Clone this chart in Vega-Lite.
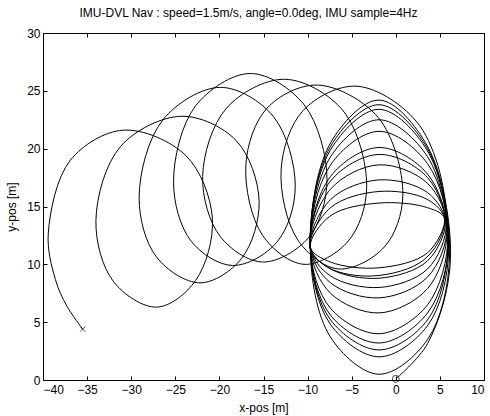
{
"$schema": "https://vega.github.io/schema/vega-lite/v6.json",
"width": 441, "height": 347,
"autosize": {"type": "none"},
"padding": {"left": 43, "top": 33, "right": 6, "bottom": 36},
"background": "white",
"title": {"text": "IMU-DVL Nav : speed=1.5m/s, angle=0.0deg, IMU sample=4Hz", "font": "Liberation Sans", "fontSize": 12, "fontWeight": "normal", "color": "black", "offset": 7, "dx": -15},
"config": {
  "view": {"stroke": "black", "strokeWidth": 1},
  "axis": {"domain": false, "grid": false, "tickColor": "black", "tickSize": -4, "labelFont": "Liberation Sans", "labelFontSize": 12, "labelColor": "black", "titleFont": "Liberation Sans", "titleFontSize": 12, "titleFontWeight": "normal", "titleColor": "black"}
},
"datasets": {
"path": [
{"i":1,"x":0,"y":0.1},{"i":2,"x":3.6,"y":3.15},{"i":3,"x":6.2,"y":10.5},{"i":4,"x":3.6,"y":20.2},{"i":5,"x":-1.9,"y":24.2},{"i":6,"x":-7.4,"y":20.5},{"i":7,"x":-9.7,"y":11.5},{"i":8,"x":-7.4,"y":3.7},
{"i":9,"x":-1.9,"y":0.5},{"i":10,"x":3.6,"y":3.5},{"i":11,"x":6.1,"y":10.8},{"i":12,"x":3.6,"y":20.0},{"i":13,"x":-1.9,"y":23.8},{"i":14,"x":-7.4,"y":20.2},{"i":15,"x":-9.7,"y":11.5},{"i":16,"x":-7.4,"y":4.8},
{"i":17,"x":-1.9,"y":2.0},{"i":18,"x":3.6,"y":4.7},{"i":19,"x":6.0,"y":11.2},{"i":20,"x":3.6,"y":19.8},{"i":21,"x":-1.9,"y":23.4},{"i":22,"x":-7.4,"y":19.9},{"i":23,"x":-9.7,"y":11.5},{"i":24,"x":-7.4,"y":5.2},
{"i":25,"x":-1.9,"y":2.6},{"i":26,"x":3.6,"y":5.2},{"i":27,"x":5.9,"y":11.6},{"i":28,"x":3.6,"y":19.3},{"i":29,"x":-1.9,"y":22.5},{"i":30,"x":-7.4,"y":19.3},{"i":31,"x":-9.7,"y":11.5},{"i":32,"x":-7.4,"y":5.6},
{"i":33,"x":-1.9,"y":3.2},{"i":34,"x":3.6,"y":5.8},{"i":35,"x":6.0,"y":12.0},{"i":36,"x":3.6,"y":18.7},{"i":37,"x":-1.9,"y":21.5},{"i":38,"x":-7.4,"y":18.6},{"i":39,"x":-9.7,"y":11.5},{"i":40,"x":-7.4,"y":6.2},
{"i":41,"x":-1.9,"y":4.0},{"i":42,"x":3.6,"y":6.5},{"i":43,"x":5.9,"y":12.4},{"i":44,"x":3.6,"y":17.8},{"i":45,"x":-1.9,"y":20.1},{"i":46,"x":-7.4,"y":17.6},{"i":47,"x":-9.7,"y":11.5},{"i":48,"x":-7.4,"y":7.5},
{"i":49,"x":-1.9,"y":5.8},{"i":50,"x":3.6,"y":7.9},{"i":51,"x":5.8,"y":12.8},{"i":52,"x":3.6,"y":17.5},{"i":53,"x":-1.9,"y":19.5},{"i":54,"x":-7.4,"y":17.2},{"i":55,"x":-9.7,"y":11.5},{"i":56,"x":-7.4,"y":8.4},
{"i":57,"x":-1.9,"y":7.1},{"i":58,"x":3.6,"y":8.9},{"i":59,"x":5.8,"y":13.2},{"i":60,"x":3.6,"y":17.0},{"i":61,"x":-1.9,"y":18.6},{"i":62,"x":-7.4,"y":16.5},{"i":63,"x":-9.7,"y":11.5},{"i":64,"x":-7.4,"y":9.0},
{"i":65,"x":-1.9,"y":8.0},{"i":66,"x":3.6,"y":9.6},{"i":67,"x":5.7,"y":13.5},{"i":68,"x":3.6,"y":16.2},{"i":69,"x":-1.9,"y":17.3},{"i":70,"x":-7.4,"y":15.6},{"i":71,"x":-9.7,"y":11.5},{"i":72,"x":-7.4,"y":9.6},
{"i":73,"x":-1.9,"y":8.8},{"i":74,"x":3.6,"y":10.3},{"i":75,"x":5.6,"y":13.8},{"i":76,"x":3.6,"y":15.6},{"i":77,"x":-1.9,"y":16.3},{"i":78,"x":-7.4,"y":14.9},{"i":79,"x":-9.7,"y":11.5},{"i":80,"x":-7.4,"y":10.2},
{"i":81,"x":-1.9,"y":9.7},{"i":82,"x":3.6,"y":11.0},{"i":83,"x":5.5,"y":14.0},{"i":84,"x":3.6,"y":14.9},{"i":85,"x":-1.9,"y":15.3},{"i":86,"x":-7.4,"y":14.2},{"i":87,"x":-9.7,"y":11.5},{"i":88,"x":-7.6,"y":9.7},
{"i":89,"x":-2.5,"y":9.0},{"i":90,"x":3.2,"y":10.4},{"i":91,"x":5.6,"y":13.8},{"i":92,"x":2.7,"y":22.0},{"i":93,"x":-4.4,"y":25.4},{"i":94,"x":-10.5,"y":23.3},{"i":95,"x":-13.0,"y":18.2},{"i":96,"x":-11.1,"y":12.1},
{"i":97,"x":-6.5,"y":9.6},{"i":98,"x":-1.3,"y":11.5},{"i":99,"x":0.8,"y":16.0},{"i":100,"x":-2.0,"y":22.7},{"i":101,"x":-8.9,"y":25.5},{"i":102,"x":-14.6,"y":23.5},{"i":103,"x":-17.0,"y":18.6},{"i":104,"x":-15.1,"y":12.5},
{"i":105,"x":-10.4,"y":10.0},{"i":106,"x":-5.4,"y":12.0},{"i":107,"x":-3.3,"y":16.7},{"i":108,"x":-6.0,"y":23.3},{"i":109,"x":-12.6,"y":26.0},{"i":110,"x":-19.2,"y":23.5},{"i":111,"x":-21.9,"y":17.6},{"i":112,"x":-19.9,"y":12.4},
{"i":113,"x":-15.1,"y":10.2},{"i":114,"x":-9.9,"y":12.3},{"i":115,"x":-7.8,"y":17.3},{"i":116,"x":-10.4,"y":23.8},{"i":117,"x":-16.5,"y":26.5},{"i":118,"x":-22.7,"y":23.7},{"i":119,"x":-25.2,"y":17.1},{"i":120,"x":-23.2,"y":12.0},
{"i":121,"x":-18.5,"y":9.9},{"i":122,"x":-13.5,"y":11.9},{"i":123,"x":-11.4,"y":16.7},{"i":124,"x":-13.9,"y":22.8},{"i":125,"x":-19.9,"y":25.3},{"i":126,"x":-26.4,"y":22.5},{"i":127,"x":-29.1,"y":15.8},{"i":128,"x":-27.1,"y":10.6},
{"i":129,"x":-22.2,"y":8.4},{"i":130,"x":-17.5,"y":10.5},{"i":131,"x":-15.5,"y":15.5},{"i":132,"x":-18.1,"y":20.7},{"i":133,"x":-24.3,"y":22.8},{"i":134,"x":-31.2,"y":20.2},{"i":135,"x":-34.0,"y":13.8},{"i":136,"x":-32.0,"y":8.5},
{"i":137,"x":-27.1,"y":6.3},{"i":138,"x":-22.7,"y":8.6},{"i":139,"x":-20.8,"y":14.0},{"i":140,"x":-23.8,"y":19.4},{"i":141,"x":-30.9,"y":21.6},{"i":142,"x":-36.9,"y":19.0},{"i":143,"x":-39.4,"y":12.7},{"i":144,"x":-38.6,"y":8.7},{"i":145,"x":-37.3,"y":6.4},{"i":146,"x":-35.5,"y":4.4}
],
"marks": [
{"x":0,"y":0.1,"kind":"start"},
{"x":-35.5,"y":4.4,"kind":"end"}
]
},
"layer": [
{
  "data": {"name": "path"},
  "mark": {"type": "line", "interpolate": "catmull-rom", "color": "black", "strokeWidth": 1, "clip": true},
  "encoding": {
    "x": {"field": "x", "type": "quantitative", "scale": {"domain": [-40, 10], "nice": false, "zero": false},
          "axis": {"orient": "bottom", "title": "x-pos [m]", "values": [-40,-35,-30,-25,-20,-15,-10,-5,0,5,10], "labelPadding": 8, "titlePadding": 7}},
    "y": {"field": "y", "type": "quantitative", "scale": {"domain": [0, 30], "nice": false, "zero": false},
          "axis": {"orient": "left", "title": "y-pos [m]", "values": [0,5,10,15,20,25,30], "labelPadding": 7, "titlePadding": 8}},
    "order": {"field": "i", "type": "quantitative"}
  }
},
{
  "data": {"name": "marks"},
  "mark": {"type": "point", "filled": false, "color": "black", "strokeWidth": 1},
  "encoding": {
    "x": {"field": "x", "type": "quantitative", "axis": {"orient": "top", "labels": false, "title": null, "values": [-40,-35,-30,-25,-20,-15,-10,-5,0,5,10]}},
    "y": {"field": "y", "type": "quantitative", "axis": {"orient": "right", "labels": false, "title": null, "values": [0,5,10,15,20,25,30]}},
    "shape": {"field": "kind", "type": "nominal", "scale": {"domain": ["start", "end"], "range": ["circle", "M-1,-1L1,1M1,-1L-1,1"]}, "legend": null},
    "size": {"field": "kind", "type": "nominal", "scale": {"domain": ["start", "end"], "range": [49, 25]}, "legend": null}
  }
}
],
"resolve": {"axis": {"x": "independent", "y": "independent"}}
}
